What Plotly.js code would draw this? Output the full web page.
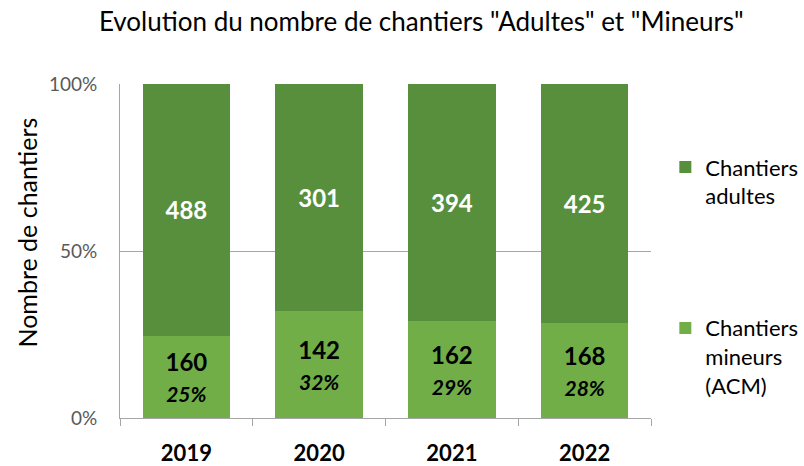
<!DOCTYPE html>
<html>
<head>
<meta charset="utf-8">
<script src="https://cdn.plot.ly/plotly-3.0.1.min.js"></script>
<style>html,body{margin:0;padding:0;background:#fff;}#chart{width:804px;height:466px;}</style>
</head>
<body>
<div id="chart"></div>
<script>
var years = ["2019", "2020", "2021", "2022"];
var adultes = [488, 301, 394, 425];
var mineurs = [160, 142, 162, 168];
var pctMineurs = ["25%", "32%", "29%", "28%"];
var yTicks = [0, 50, 100];
var yTickLabels = ["0%", "50%", "100%"];

var FONT = "Lato, 'Open Sans', sans-serif";

var traceMineurs = {
  type: "bar",
  name: "Chantiers<br>mineurs<br>(ACM)",
  x: years,
  y: mineurs,
  marker: {color: "#71ae48", line: {width: 0}},
  text: mineurs.map(function (v, i) {
    return "<b>" + v + "</b><br><span style='font-size:21px'><b><i>" + pctMineurs[i] + "</i></b></span>";
  }),
  texttemplate: "%{text}",
  textposition: "inside",
  insidetextanchor: "middle",
  constraintext: "none",
  textfont: {family: FONT, size: 24, color: "#000000"},
  hoverinfo: "skip",
  legend: "legend2"
};

var traceAdultes = {
  type: "bar",
  name: "Chantiers<br>adultes",
  x: years,
  y: adultes,
  marker: {color: "#588f3d", line: {width: 0}},
  text: adultes.map(function (v) { return "<b>" + v + "</b>"; }),
  texttemplate: "%{text}",
  textposition: "inside",
  insidetextanchor: "middle",
  constraintext: "none",
  textfont: {family: FONT, size: 24, color: "#ffffff"},
  hoverinfo: "skip",
  legend: "legend"
};

var layout = {
  width: 804,
  height: 466,
  margin: {l: 120, r: 153, t: 84, b: 48, autoexpand: false},
  paper_bgcolor: "#ffffff",
  plot_bgcolor: "#ffffff",
  font: {family: FONT, color: "#000000"},
  barmode: "stack",
  barnorm: "percent",
  bargap: 0.34,
  title: {
    text: "Evolution du nombre de chantiers \"Adultes\" et \"Mineurs\"",
    font: {family: FONT, size: 26, color: "#000000"},
    x: 0.524, xanchor: "center",
    y: 0.953, yanchor: "middle"
  },
  xaxis: {
    type: "category",
    tickson: "boundaries",
    ticks: "outside",
    ticklen: 7,
    tickcolor: "#a6a6a6",
    showline: true,
    linecolor: "#a6a6a6",
    linewidth: 1,
    showgrid: false,
    tickfont: {family: FONT, size: 22, color: "#000000", weight: "bold"},
    ticklabelstandoff: 16
  },
  yaxis: {
    range: [0, 100],
    tickvals: yTicks,
    ticktext: yTickLabels,
    showline: true,
    linecolor: "#a6a6a6",
    linewidth: 1,
    showgrid: true,
    gridcolor: "#a6a6a6",
    gridwidth: 1,
    zeroline: false,
    ticks: "",
    ticklabelstandoff: 18,
    tickfont: {family: FONT, size: 19, color: "#595959"}
  },
  annotations: [{
    text: "Nombre de chantiers",
    textangle: -90,
    xref: "paper", yref: "paper",
    x: -0.176, xanchor: "center",
    y: 0.554, yanchor: "middle",
    showarrow: false,
    font: {family: FONT, size: 25, color: "#000000"}
  }],
  legend: {
    x: 1.027, xanchor: "left",
    y: 0.814, yanchor: "top",
    valign: "top",
    font: {family: FONT, size: 22, color: "#000000"},
    itemwidth: 30,
    bgcolor: "rgba(0,0,0,0)"
  },
  legend2: {
    x: 1.027, xanchor: "left",
    y: 0.332, yanchor: "top",
    valign: "top",
    font: {family: FONT, size: 22, color: "#000000"},
    itemwidth: 30,
    bgcolor: "rgba(0,0,0,0)"
  },
  showlegend: true
};

Plotly.newPlot("chart", [traceMineurs, traceAdultes], layout, {displayModeBar: false, staticPlot: true});
</script>
</body>
</html>
